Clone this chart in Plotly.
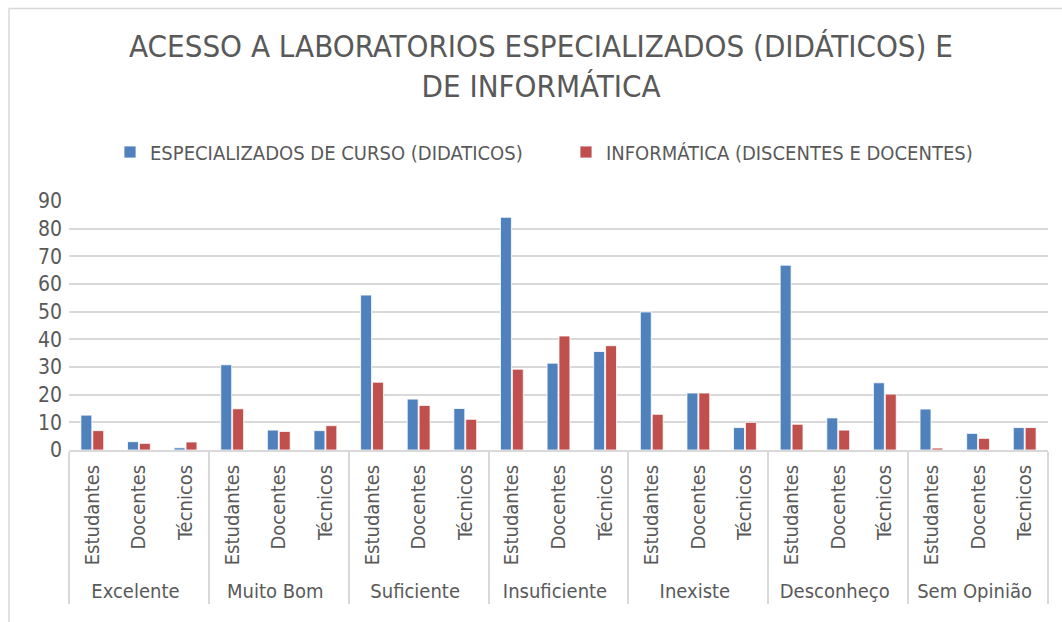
import plotly.graph_objects as go

groups = ["Excelente", "Muito Bom", "Suficiente", "Insuficiente", "Inexiste", "Desconheço", "Sem Opinião"]
subgroups = [
    ["Estudantes", "Docentes", "Técnicos"],
    ["Estudantes", "Docentes", "Técnicos"],
    ["Estudantes", "Docentes", "Técnicos"],
    ["Estudantes", "Docentes", "Técnicos"],
    ["Estudantes", "Docentes", "Técnicos"],
    ["Estudantes", "Docentes", "Técnicos"],
    ["Estudantes", "Docentes", "Tecnicos"],
]
especializados = [12.6, 3.0, 0.8, 30.8, 7.2, 7.0, 56.0, 18.4, 15.0, 84.1, 31.4, 35.6,
                  49.9, 20.6, 8.1, 66.8, 11.6, 24.3, 14.8, 6.0, 8.1]
informatica = [7.0, 2.4, 2.9, 14.9, 6.7, 8.8, 24.5, 16.1, 11.1, 29.2, 41.2, 37.7,
               12.9, 20.6, 10.0, 9.3, 7.2, 20.2, 0.7, 4.2, 8.1]
y_ticks = [0, 10, 20, 30, 40, 50, 60, 70, 80, 90]
series_names = ["ESPECIALIZADOS DE CURSO (DIDATICOS)", "INFORMÁTICA (DISCENTES E DOCENTES)"]
title_text = "ACESSO A LABORATORIOS ESPECIALIZADOS (DIDÁTICOS) E<br>DE INFORMÁTICA"

x_outer = [g for g, subs in zip(groups, subgroups) for _ in subs]
x_inner = [s for subs in subgroups for s in subs]

FONT = "DejaVu Sans Condensed, Liberation Sans Narrow, sans-serif"
GREY = "#595959"

fig = go.Figure()
fig.add_trace(go.Bar(x=[x_outer, x_inner], y=especializados, name=series_names[0],
                     marker=dict(color="#4f81bd", line=dict(color="white", width=0.8))))
fig.add_trace(go.Bar(x=[x_outer, x_inner], y=informatica, name=series_names[1],
                     marker=dict(color="#c0504d", line=dict(color="white", width=0.8))))

plot_l, plot_r, plot_t, plot_b = 69, 1048, 200.7, 450
W, H = 1062, 622
pw, ph = plot_r - plot_l, plot_b - plot_t

fig.update_layout(
    width=W, height=H,
    margin=dict(l=plot_l, r=W - plot_r, t=plot_t, b=H - plot_b, autoexpand=False),
    paper_bgcolor="white", plot_bgcolor="white",
    font=dict(family=FONT, color=GREY),
    barmode="group", bargap=0.49, bargroupgap=0.08,
    title=dict(text=title_text, x=541 / W, xanchor="center", y=1 - 57 / H, yanchor="top",
               font=dict(size=31, color=GREY, family=FONT)),
    legend=dict(orientation="h", xref="container", x=110 / W, xanchor="left",
                yref="container", y=1 - 152 / H, yanchor="middle",
                font=dict(size=20, color=GREY, family=FONT),
                itemwidth=30, entrywidth=411, entrywidthmode="pixels",
                bgcolor="rgba(0,0,0,0)"),
    showlegend=True,
)
fig.update_yaxes(range=[0, 90], tickvals=y_ticks, showgrid=True, gridcolor="#d9d9d9",
                 gridwidth=1.5, zeroline=False, showline=False, automargin=False,
                 tickfont=dict(size=21, color=GREY, family=FONT), ticks="", ticklabelstandoff=6)
fig.update_xaxes(type="multicategory", tickangle=-90, showline=True, linecolor="#d9d9d9",
                 linewidth=1.5, showdividers=True, dividercolor="#d9d9d9", dividerwidth=1.5,
                 automargin=False, ticklabelstandoff=5,
                 tickfont=dict(size=20, color=GREY, family=FONT), ticks="")

fig.add_shape(type="rect", xref="paper", yref="paper",
              x0=(9 - plot_l) / pw, x1=(1075 - plot_l) / pw,
              y0=(plot_b - 640) / ph, y1=(plot_b - 8) / ph,
              line=dict(color="#d9d9d9", width=1.5), fillcolor="rgba(0,0,0,0)", layer="below")

fig.write_html("out.html", config={"displayModeBar": False},
               post_script="document.body.style.margin='0';")
